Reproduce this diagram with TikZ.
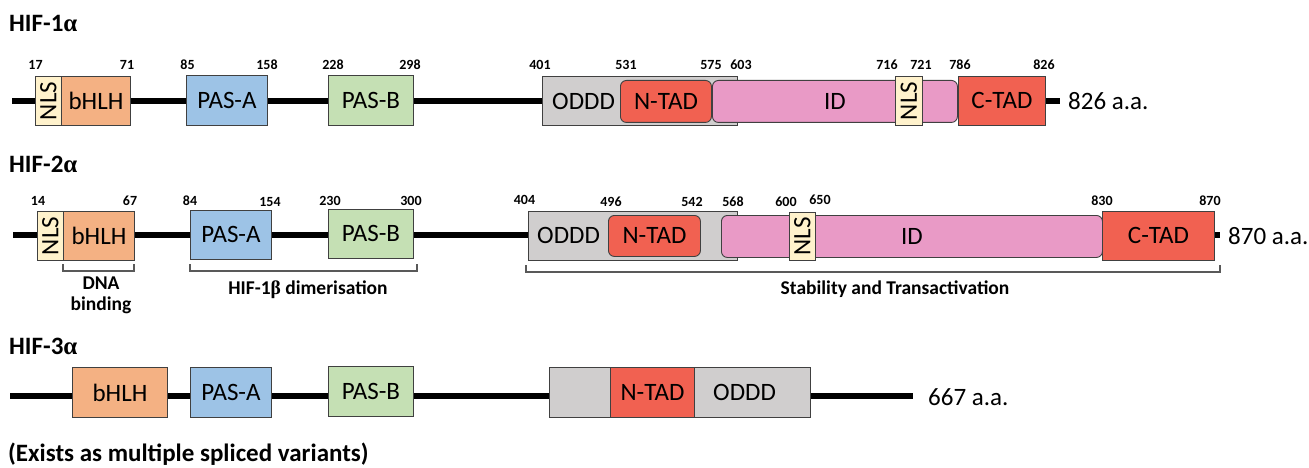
\documentclass[tikz,border=0pt]{standalone}
\usepackage{fontspec}
\usepackage{graphicx}
\setmainfont{Carlito}
\newfontfamily\grk{Liberation Serif}
\definecolor{nlsc}{HTML}{FFF2CC}
\definecolor{bhlhc}{HTML}{F4B183}
\definecolor{pasac}{HTML}{9DC3E6}
\definecolor{pasbc}{HTML}{C5E0B4}
\definecolor{odddc}{HTML}{D0CECE}
\definecolor{tadc}{HTML}{F16151}
\definecolor{idc}{HTML}{E99AC6}
\definecolor{bordc}{HTML}{404040}
\definecolor{brkc}{HTML}{595959}
\begin{document}
\begin{tikzpicture}[x=1pt,y=-1pt,
  dom/.style={draw=bordc, line width=0.9pt, inner sep=0pt, anchor=north west, font=\fontsize{25}{25}\selectfont, text=black},
  rdom/.style={dom, rounded corners=6pt},
  num/.style={font=\bfseries\fontsize{14}{14}\selectfont, inner sep=0pt},
  backbone/.style={line width=6pt, black},
  brk/.style={draw=brkc, line width=1.3pt},
  lab/.style={font=\bfseries\fontsize{19.5}{21}\selectfont, inner sep=0pt, align=center},
  ttl/.style={font=\bfseries\fontsize{25}{26}\selectfont, anchor=west, inner sep=0pt},
  note/.style={font=\bfseries\fontsize{25}{26}\selectfont, anchor=base west, inner sep=0pt},
  aa/.style={font=\fontsize{25}{26}\selectfont, anchor=west, inner sep=0pt},
  dtext/.style={font=\fontsize{25}{25}\selectfont, anchor=west, inner sep=0pt}]
\useasboundingbox (0,0) rectangle (1309,468);

% ---------------- HIF-1alpha ----------------
\node[ttl] (t1) at (9,24) {HIF-1{\grk α}};
\coordinate (s1) at (12,101);
\coordinate (e1) at (1060,101);
\draw[backbone] (s1) -- (e1);
\node[dom, fill=nlsc, minimum width=26pt, minimum height=49pt] (nls1a) at (35,76) {\rotatebox{90}{NLS}};
\node[dom, fill=bhlhc, minimum width=69pt, minimum height=49pt] (bhlh1) at (61,76) {bHLH};
\node[dom, fill=pasac, minimum width=81pt, minimum height=50pt] (pasa1) at (186,75) {PAS-A};
\node[dom, fill=pasbc, minimum width=85pt, minimum height=50pt] (pasb1) at (328,75) {PAS-B};
\node[dom, fill=odddc, minimum width=195pt, minimum height=49pt] (oddd1) at (542,76) {};
\node[dtext] (oddd1t) at (552,101) {ODDD};
\node[rdom, fill=tadc, minimum width=91pt, minimum height=42pt] (ntad1) at (620,80) {N-TAD};
\node[rdom, fill=idc, minimum width=245pt, minimum height=42pt] (id1) at (712,80) {ID};
\node[dom, fill=nlsc, minimum width=27pt, minimum height=49pt] (nls1b) at (895,76) {\rotatebox{90}{NLS}};
\node[dom, fill=tadc, minimum width=87pt, minimum height=49pt] (ctad1) at (958,76) {C-TAD};
\node[aa] (aa1) at (1068,101) {826 a.a.};
\foreach \x/\t in {35.5/17, 127/71, 187.5/85, 267/158, 333/228, 410/298, 540/401, 626/531, 711/575, 741/603, 887/716, 921/721, 960/786, 1044/826}
  \node[num] (na\t) at (\x,65) {\t};

% ---------------- HIF-2alpha ----------------
\node[ttl] (t2) at (9,164) {HIF-2{\grk α}};
\coordinate (s2) at (13,235);
\coordinate (e2) at (1220,235);
\draw[backbone] (s2) -- (e2);
\node[dom, fill=nlsc, minimum width=26pt, minimum height=49pt] (nls2a) at (37,211) {\rotatebox{90}{NLS}};
\node[dom, fill=bhlhc, minimum width=71pt, minimum height=49pt] (bhlh2) at (63,211) {bHLH};
\node[dom, fill=pasac, minimum width=81pt, minimum height=49pt] (pasa2) at (190,210) {PAS-A};
\node[dom, fill=pasbc, minimum width=85pt, minimum height=49pt] (pasb2) at (328,209) {PAS-B};
\node[dom, fill=odddc, minimum width=209pt, minimum height=49pt] (oddd2) at (528,211) {};
\node[dtext] (oddd2t) at (537,235.5) {ODDD};
\node[rdom, fill=tadc, minimum width=92pt, minimum height=41pt] (ntad2) at (608,215) {N-TAD};
\node[rdom, fill=idc, minimum width=381pt, minimum height=42pt] (id2) at (721,215) {ID};
\node[dom, fill=nlsc, minimum width=26pt, minimum height=48pt] (nls2b) at (789,212) {\rotatebox{90}{NLS}};
\node[dom, fill=tadc, minimum width=112pt, minimum height=49pt] (ctad2) at (1102,211) {C-TAD};
\node[aa] (aa2) at (1228,236) {870 a.a.};
\foreach \x/\t/\y in {38/14/201, 130/67/201, 190/84/201, 270/154/202, 330/230/201, 411/300/201, 524.5/404/200, 611/496/202, 692/542/202, 733/568/202, 786/600/202, 820/650/200, 1102/830/201, 1210/870/201}
  \node[num] (nb\t) at (\x,\y) {\t};
% brackets
\coordinate (d1) at (63,264);
\coordinate (d2) at (134,264);
\draw[brk] (d1) -- ++(0,7) -| (d2);
\coordinate (h1) at (190,264);
\coordinate (h2) at (417,264);
\draw[brk] (h1) -- ++(0,7) -| (h2);
\coordinate (st1) at (526,265);
\coordinate (st2) at (1220,265);
\draw[brk] (st1) -- ++(0,7) -| (st2);
\node[lab] (dnab) at (101,295) {DNA\\binding};
\node[lab] (dim) at (308,290) {HIF-1{\grk β} dimerisation};
\node[lab] (stab) at (895,289) {Stability and Transactivation};

% ---------------- HIF-3alpha ----------------
\node[ttl] (t3) at (9,346) {HIF-3{\grk α}};
\coordinate (s3) at (10,396);
\coordinate (e3) at (913,396);
\draw[backbone] (s3) -- (e3);
\node[dom, fill=bhlhc, minimum width=95pt, minimum height=50pt] (bhlh3) at (72,367) {bHLH};
\node[dom, fill=pasac, minimum width=81pt, minimum height=50pt] (pasa3) at (190,367) {PAS-A};
\node[dom, fill=pasbc, minimum width=85pt, minimum height=50pt] (pasb3) at (328,366) {PAS-B};
\node[dom, fill=odddc, minimum width=61pt, minimum height=50pt] (g3) at (549,367) {};
\node[dom, fill=tadc, minimum width=84pt, minimum height=50pt] (ntad3) at (610,367) {N-TAD};
\node[dom, fill=odddc, minimum width=116pt, minimum height=50pt] (oddd3) at (694,367) {};
\node[dtext] (oddd3t) at (713,392) {ODDD};
\node[aa] (aa3) at (928,397) {667 a.a.};
\node[note] (nt) at (8,461) {(Exists as multiple spliced variants)};
\end{tikzpicture}
\end{document}
